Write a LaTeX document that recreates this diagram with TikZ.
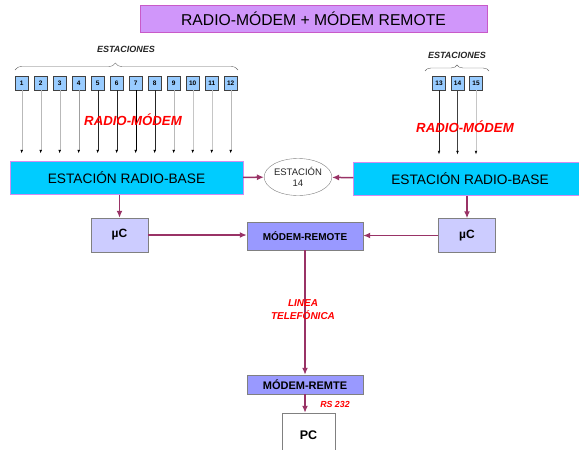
\documentclass[tikz,border=0pt]{standalone}
\usepackage{fontspec}
\setmainfont{Liberation Sans}
\usetikzlibrary{arrows.meta,shapes.geometric,decorations.pathreplacing}
\definecolor{plum}{RGB}{153,51,102}
\definecolor{titlefill}{RGB}{208,150,250}
\definecolor{titleline}{RGB}{200,90,200}
\definecolor{basecyan}{RGB}{0,204,255}
\definecolor{baseline}{RGB}{210,140,240}
\definecolor{stnblue}{RGB}{153,204,255}
\definecolor{mcfill}{RGB}{204,204,255}
\definecolor{mrfill}{RGB}{153,153,255}
\begin{document}
\begin{tikzpicture}[x=1pt,y=-1pt,
  stn/.style={draw=black!75,fill=stnblue,minimum width=13pt,minimum height=14pt,inner sep=0pt,font=\fontsize{6.5}{7}\selectfont\bfseries},
  base/.style={draw=baseline,fill=basecyan,minimum width=233pt,minimum height=33pt,inner sep=0pt,font=\fontsize{13.7}{15}\selectfont},
  mc/.style={draw=gray,fill=mcfill,minimum width=57pt,minimum height=34pt,inner sep=0pt,font=\fontsize{12}{14}\selectfont\bfseries},
  modem/.style={draw=gray,fill=mrfill,minimum width=116pt,inner sep=0pt,font=\fontsize{10}{12}\selectfont\bfseries},
  link/.style={plum,line width=1.5pt,-{Latex[length=7pt,width=6pt]}},
  radio/.style={shorten >=8pt,-{Latex[length=3.5pt,width=2.6pt,color=black]}},
  lbl/.style={red,font=\fontsize{13.2}{15}\selectfont\bfseries\itshape},
  grp/.style={gray!30!black,font=\fontsize{9}{10}\selectfont\bfseries\itshape},
  brc/.style={gray!80!black,decorate}]
\clip (0,0) rectangle (579,450);

\node[draw=titleline,fill=titlefill,minimum width=347pt,minimum height=27pt,font=\fontsize{15.7}{18}\selectfont] (title) at (313.5,18.5) {RADIO-MÓDEM + MÓDEM REMOTE};

\node[base] (rbl) at (126.5,178) {ESTACIÓN RADIO-BASE};
\node[base] (rbr) at (470,179) {ESTACIÓN RADIO-BASE};
\node[draw=gray,fill=white,ellipse,minimum width=58pt,minimum height=37pt,inner sep=0pt,align=center,text=gray!30!black,font=\fontsize{9.5}{11}\selectfont] (e14) at (298,177) {ESTACIÓN\\14};

\node[grp] (gl) at (126,49) {ESTACIONES};
\node[grp] (gr) at (457,55) {ESTACIONES};
\draw[brc,decoration={brace,amplitude=7pt,aspect=0.45}] (15,70) -- (238,70);
\draw[brc,decoration={brace,amplitude=6pt}] (425,71) -- (489,71);

\foreach \i/\c in {1/gray!55,2/gray!55,3/gray!55,4/gray!75,5/black!85,6/black!85,7/black,8/black!85,9/gray!55,10/gray!45,11/gray!45,12/gray!55} {
  \node[stn] (s\i) at ({21.7+19*(\i-1)},83) {\i};
  \draw[radio,draw=\c] (s\i) -- (s\i |- rbl.north);
}
\foreach \i/\x/\c in {13/439/black!85,14/457.5/black!75,15/476/gray!45} {
  \node[stn] (s\i) at (\x,83) {\i};
  \draw[radio,draw=\c] (s\i) -- (s\i |- rbr.north);
}
\node[lbl] (rml) at (133,120) {RADIO-MÓDEM};
\node[lbl] (rmr) at (465,127) {RADIO-MÓDEM};

\node[mc] (mcl) at (119.5,235) {µC};
\node[mc] (mcr) at (467,235.5) {µC};
\node[modem,minimum height=28pt] (mr) at (305,236) {MÓDEM-REMOTE};
\node[modem,minimum height=19pt,font=\fontsize{11}{13}\selectfont\bfseries] (mrt) at (305,384.5) {MÓDEM-REMTE};
\node[draw=gray,fill=white,minimum width=53pt,minimum height=44pt,font=\fontsize{12.5}{14}\selectfont\bfseries] (pc) at (308.5,435) {PC};

\draw[link] (rbl) -- (e14);
\draw[link] (rbr) -- (e14);
\draw[link] (rbl.south -| mcl) -- (mcl);
\draw[link] (rbr.south -| mcr) -- (mcr);
\draw[link] (mcl.east) -- (mcl.east -| mr.west);
\draw[link] (mcr.west) -- (mcr.west -| mr.east);
\draw[link] (mr) -- (mrt);
\draw[link] (mrt.south) -- (mrt.south |- pc.north);

\node[red,align=center,font=\fontsize{10}{13}\selectfont\bfseries\itshape] (tel) at (303,310) {LINEA\\TELEFÓNICA};
\node[red,font=\fontsize{8.8}{10}\selectfont\bfseries\itshape] (rs) at (335,404) {RS 232};
\end{tikzpicture}
\end{document}
